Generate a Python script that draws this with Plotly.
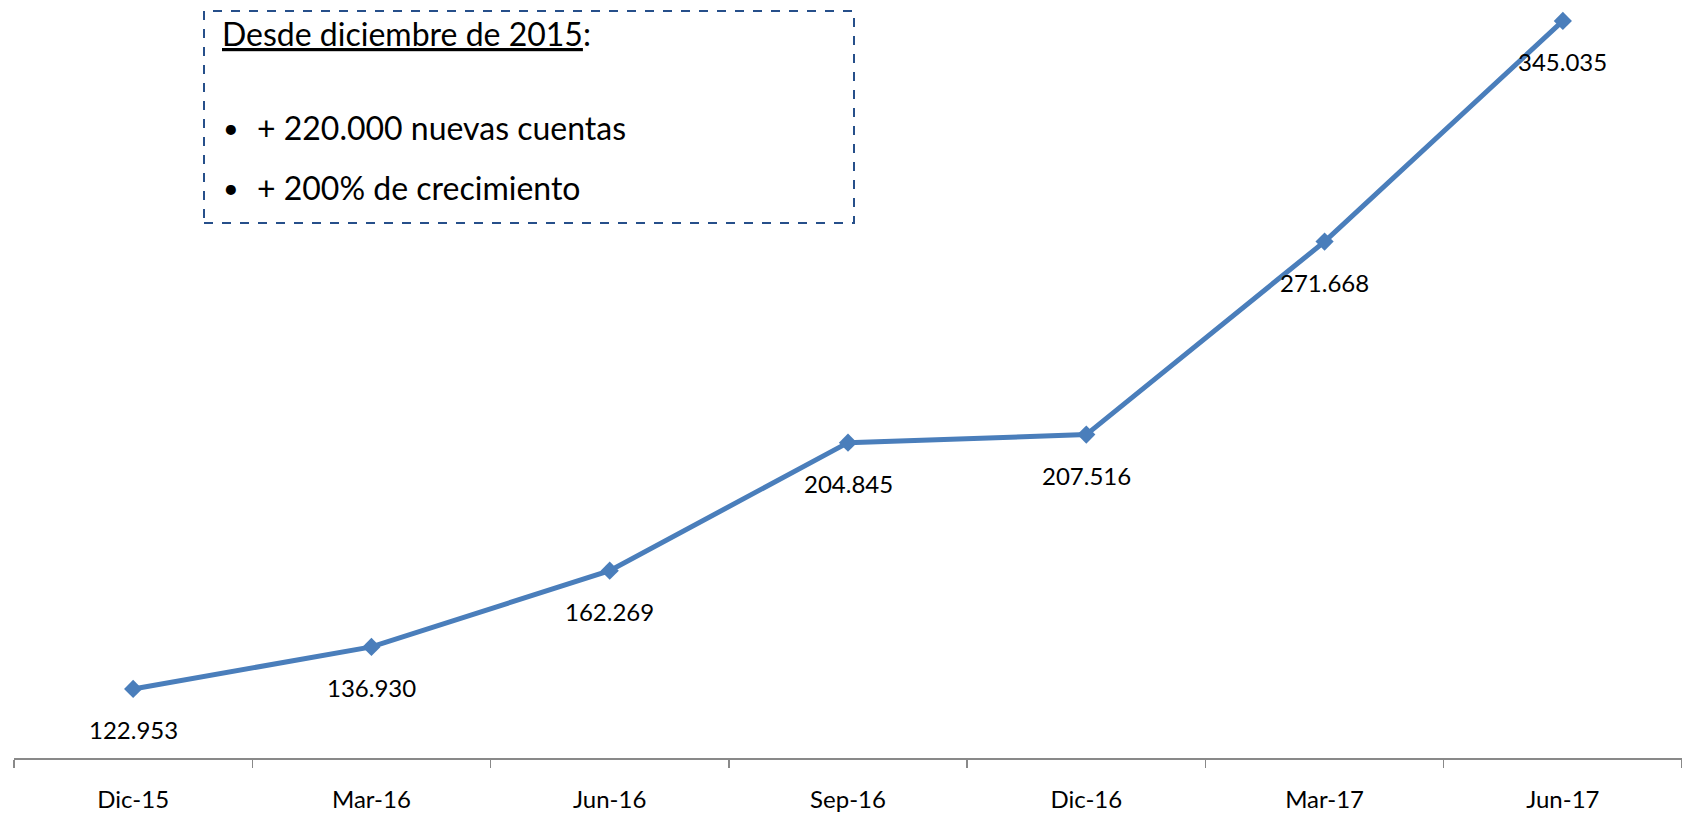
import plotly.graph_objects as go

categories = ["Dic-15", "Mar-16", "Jun-16", "Sep-16", "Dic-16", "Mar-17", "Jun-17"]
cuentas = [122953, 136930, 162269, 204845, 207516, 271668, 345035]

box_title = "Desde diciembre de 2015"
box_bullets = ["+ 220.000 nuevas cuentas", "+ 200% de crecimiento"]

W, H = 1682, 816
ML, MR, MT, MB = 14, 0, 6, 58
PW, PH = W - ML - MR, H - MT - MB

def px(x):
    return (x - ML) / PW

def py(y):
    return (H - MB - y) / PH

LINE = "#4A7EBB"
FONT = "Lato"

fig = go.Figure()
fig.add_trace(go.Scatter(
    x=categories, y=cuentas, mode="lines+markers",
    line=dict(color=LINE, width=5),
    marker=dict(symbol="diamond", size=14, color=LINE),
    hoverinfo="skip", showlegend=False,
))

annotations = []
for c, v in zip(categories, cuentas):
    annotations.append(dict(
        x=c, y=v, xref="x", yref="y", text=f"{v:,}".replace(",", "."),
        showarrow=False, yshift=-41, font=dict(family=FONT, size=24, color="black"),
    ))

annotations.append(dict(
    x=px(220), y=py(33), xref="paper", yref="paper", xanchor="left", yanchor="middle",
    text=f"<u>{box_title}</u>:", showarrow=False,
    font=dict(family=FONT, size=32, color="black"),
))
for i, b in enumerate(box_bullets):
    yc = [127, 187][i]
    annotations.append(dict(
        x=px(221), y=py(yc), xref="paper", yref="paper", xanchor="left", yanchor="middle",
        text="•", showarrow=False, font=dict(family=FONT, size=27, color="black"),
    ))
    annotations.append(dict(
        x=px(255), y=py(yc), xref="paper", yref="paper", xanchor="left", yanchor="middle",
        text=b, showarrow=False, font=dict(family=FONT, size=32, color="black"),
    ))

fig.update_layout(
    width=W, height=H,
    margin=dict(l=ML, r=MR, t=MT, b=MB, pad=0),
    paper_bgcolor="white", plot_bgcolor="white",
    annotations=annotations,
    shapes=[dict(
        type="rect", xref="paper", yref="paper",
        x0=px(204), x1=px(854), y0=py(223), y1=py(11),
        line=dict(color="#264F8A", width=2, dash="dash"),
    )],
    xaxis=dict(
        type="category", range=[-0.5, 6.5], showgrid=False, zeroline=False,
        showline=True, linecolor="#898989", linewidth=1.5,
        ticks="outside", tickson="boundaries", ticklen=8, tickcolor="#898989", tickwidth=1.5,
        tickfont=dict(family=FONT, size=24, color="black"), ticklabelstandoff=20,
        fixedrange=True,
    ),
    yaxis=dict(range=[100000, 350000], visible=False, showgrid=False, zeroline=False, fixedrange=True),
)

fig.write_html(
    "out.html",
    config={"displayModeBar": False, "staticPlot": True},
    post_script="document.body.style.margin='0';document.body.style.overflow='hidden';",
)
